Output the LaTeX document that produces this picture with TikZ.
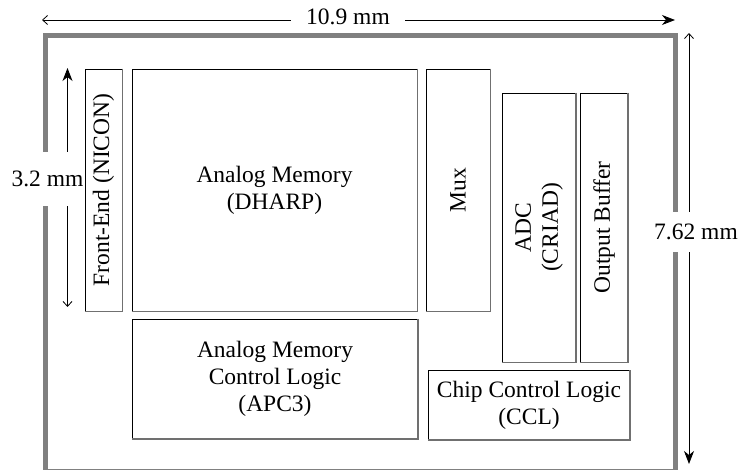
\documentclass[tikz,border=0pt]{standalone}
\usepackage{fontspec}
\setmainfont{Liberation Serif}
\usetikzlibrary{arrows.meta}
\definecolor{framegray}{RGB}{128,128,128}
\definecolor{edgegray}{RGB}{112,112,112}
\newcommand{\chipfont}{\fontsize{23.5}{27}\selectfont}
\begin{document}
\begin{tikzpicture}[x=1pt,y=-1pt,
  blk/.style={draw=black,line width=0.9pt,inner sep=0pt,font=\chipfont,align=center},
  shadowedge/.style={draw=edgegray,line width=1.6pt},
  dimline/.style={draw=black,line width=0.9pt},
  tipfull/.tip={Stealth[length=13pt,width=10pt,inset=4pt]},
  tipthin/.tip={Straight Barb[length=5pt,width=9pt,line width=0.8pt]},
  dimlabel/.style={fill=white,font=\chipfont,anchor=base,inner xsep=2pt}]
\useasboundingbox (0,0) rectangle (739,470);

% die outline
\draw[framegray,line width=5pt] (45.5,35.5) rectangle (675.5,471.5);

% functional blocks
\node[blk,minimum width=37pt,minimum height=242pt] (fe) at (103.5,190)
  {\rotatebox{90}{Front-End (NICON)}};
\node[blk,minimum width=285pt,minimum height=242pt] (dharp) at (274.5,190)
  {Analog Memory\\(DHARP)};
\node[blk,minimum width=64pt,minimum height=242pt] (mux) at (458,190)
  {\rotatebox{90}{Mux}};
\node[blk,minimum width=72.5pt,minimum height=269pt] (adc) at (539,227.5)
  {\rotatebox{90}{\begin{tabular}{@{}c@{}}ADC\\(CRIAD)\end{tabular}}};
\node[blk,minimum width=47.5pt,minimum height=269pt] (ob) at (604,227.5)
  {\rotatebox{90}{Output Buffer}};
\node[blk,minimum width=285pt,minimum height=119.5pt] (apc) at (275,379)
  {Analog Memory\\Control Logic\\(APC3)};
\node[blk,minimum width=200.5pt,minimum height=68.5pt] (ccl) at (529,405)
  {Chip Control Logic\\(CCL)};

% shaded right and bottom edges of each block
\foreach \b in {fe,dharp,mux,adc,ob,apc,ccl}
  \draw[shadowedge] (\b.north east) -- (\b.south east) -- (\b.south west);

% dimension lines
\coordinate (wL) at (42,20);
\coordinate (wR) at (675,20);
\coordinate (hT) at (689,33);
\coordinate (hB) at (689,464);
\coordinate (dT) at (67.5,68);
\coordinate (dB) at (67.5,307);
\draw[dimline,{tipthin}-{tipfull}] (wL) -- (wR);
\draw[dimline,{tipthin}-{tipfull}] (hT) -- (hB);
\draw[dimline,{tipfull}-{tipthin}] (dT) -- (dB);

% dimension labels
\node[dimlabel,inner xsep=15pt,inner ysep=4pt] (wlab) at (348,25) {10.9 mm};
\node[dimlabel,inner ysep=12pt] (hlab) at (696,239.3) {7.62 mm};
\node[dimlabel,inner ysep=19pt] (dlab) at (47.5,186.7) {3.2 mm};
\end{tikzpicture}
\end{document}
